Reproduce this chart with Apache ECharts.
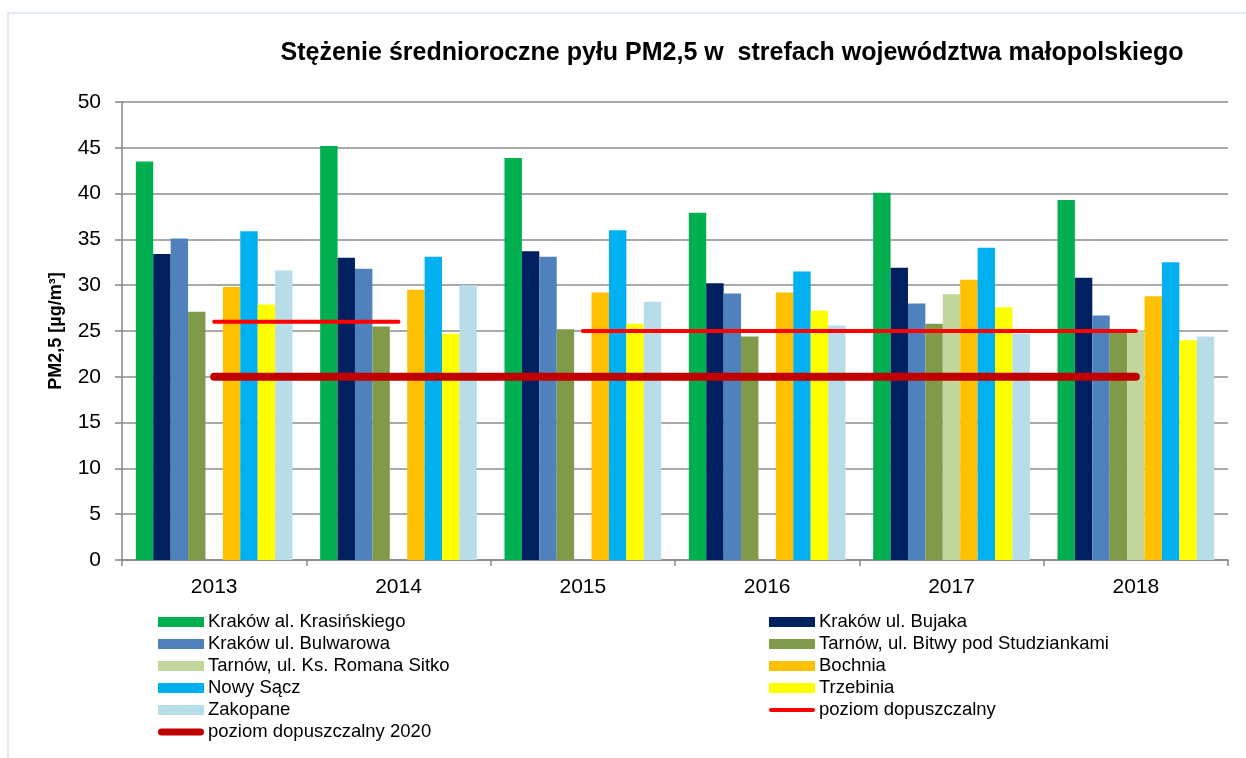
<!DOCTYPE html>
<html>
<head>
<meta charset="utf-8">
<script src="https://cdn.jsdelivr.net/npm/echarts@6/dist/echarts.min.js"></script>
<style>
html, body { margin: 0; padding: 0; background: #fff; }
#chart { width: 1246px; height: 758px; }
</style>
</head>
<body>
<div id="chart"></div>
<script>
const years = ['2013', '2014', '2015', '2016', '2017', '2018'];
const yTicks = [0, 5, 10, 15, 20, 25, 30, 35, 40, 45, 50];

// średnie roczne PM2,5 [µg/m3]
const krakowKrasinskiego = [43.5, 45.2, 43.9, 37.9, 40.1, 39.3];
const krakowBujaka = [33.4, 33.0, 33.7, 30.2, 31.9, 30.8];
const krakowBulwarowa = [35.1, 31.8, 33.1, 29.1, 28.0, 26.7];
const tarnowBitwy = [27.1, 25.5, 25.2, 24.4, 25.8, 24.9];
const tarnowSitko = [null, null, null, null, 29.0, 25.1];
const bochnia = [29.8, 29.5, 29.2, 29.2, 30.6, 28.8];
const nowySacz = [35.9, 33.1, 36.0, 31.5, 34.1, 32.5];
const trzebinia = [27.9, 24.7, 25.8, 27.2, 27.6, 24.0];
const zakopane = [31.6, 30.0, 28.2, 25.6, 24.7, 24.4];

// poziom dopuszczalny (z marginesem tolerancji) - dwa odcinki
const poziomA = [26, 26, null, null, null, null];
const poziomB = [null, null, 25, 25, 25, 25];
const poziom2020 = [20, 20, 20, 20, 20, 20];

const FONT = "'Liberation Sans', Arial, sans-serif";

const barSeries = [
    ['Kraków al. Krasińskiego', krakowKrasinskiego, '#00B050'],
    ['Kraków ul. Bujaka', krakowBujaka, '#002060'],
    ['Kraków ul. Bulwarowa', krakowBulwarowa, '#4F81BD'],
    ['Tarnów, ul. Bitwy pod Studziankami', tarnowBitwy, '#7F9B4A'],
    ['Tarnów, ul. Ks. Romana Sitko', tarnowSitko, '#C3D69B'],
    ['Bochnia', bochnia, '#FFC000'],
    ['Nowy Sącz', nowySacz, '#00B0F0'],
    ['Trzebinia', trzebinia, '#FFFF00'],
    ['Zakopane', zakopane, '#B7DDE8']
].map(([name, data, color]) => ({
    name: name,
    type: 'bar',
    data: data,
    barGap: '0%',
    barCategoryGap: '15%',
    itemStyle: { color: color },
    animation: false
}));

const lineSeries = [
    { name: 'poziom dopuszczalny', data: poziomA, color: '#FF0000', width: 4 },
    { name: 'poziom dopuszczalny', data: poziomB, color: '#FF0000', width: 4 },
    { name: 'poziom dopuszczalny 2020', data: poziom2020, color: '#C00000', width: 8 }
].map(s => ({
    name: s.name,
    type: 'line',
    data: s.data,
    symbol: 'none',
    connectNulls: false,
    z: 5,
    itemStyle: { color: s.color },
    lineStyle: { color: s.color, width: s.width, cap: 'round' },
    animation: false
}));

// ikony legendy dla linii (zaokrąglone końce)
const thinLineIcon = 'path://M2,3 L44,3 A2,2 0 0 1 44,7 L2,7 A2,2 0 0 1 2,3 Z';
const thickLineIcon = 'path://M3.5,1.5 L42.5,1.5 A3.5,3.5 0 0 1 42.5,8.5 L3.5,8.5 A3.5,3.5 0 0 1 3.5,1.5 Z';

const legendCommon = {
    orient: 'vertical',
    top: 611,
    itemWidth: 46,
    itemHeight: 10,
    itemGap: 0,
    icon: 'rect',
    textStyle: { fontFamily: FONT, fontSize: 18.5, color: '#000', lineHeight: 22, padding: [0, 0, 0, -1] },
    padding: 0
};

const chart = echarts.init(document.getElementById('chart'));
chart.setOption({
    backgroundColor: '#fff',
    title: {
        text: 'Stężenie średnioroczne pyłu PM2,5 w  strefach województwa małopolskiego',
        left: 727,
        top: 36,
        textAlign: 'center',
        textStyle: { fontFamily: FONT, fontSize: 25, fontWeight: 'bold', color: '#000' }
    },
    graphic: [{
        type: 'polyline',
        shape: { points: [[8, 770], [8, 13], [1260, 13]] },
        style: { stroke: '#D9E2EE', lineWidth: 1.5, fill: null },
        silent: true
    }],
    legend: [
        Object.assign({}, legendCommon, {
            left: 158,
            data: [
                'Kraków al. Krasińskiego',
                'Kraków ul. Bulwarowa',
                'Tarnów, ul. Ks. Romana Sitko',
                'Nowy Sącz',
                'Zakopane',
                { name: 'poziom dopuszczalny 2020', icon: thickLineIcon, itemStyle: { color: '#C00000' } }
            ]
        }),
        Object.assign({}, legendCommon, {
            left: 769,
            data: [
                'Kraków ul. Bujaka',
                'Tarnów, ul. Bitwy pod Studziankami',
                'Bochnia',
                'Trzebinia',
                { name: 'poziom dopuszczalny', icon: thinLineIcon, itemStyle: { color: '#FF0000' } }
            ]
        })
    ],
    grid: {
        left: 122,
        right: 18,
        top: 102,
        bottom: 198,
        containLabel: false
    },
    xAxis: {
        type: 'category',
        data: years,
        boundaryGap: true,
        axisLine: { lineStyle: { color: '#868686', width: 1.5 } },
        axisTick: { show: true, length: 6, interval: 0, lineStyle: { color: '#868686', width: 1.5 } },
        axisLabel: { fontFamily: FONT, fontSize: 21, color: '#000', margin: 17 }
    },
    yAxis: {
        type: 'value',
        min: yTicks[0],
        max: yTicks[yTicks.length - 1],
        interval: yTicks[1] - yTicks[0],
        name: 'PM2,5 [µg/m³]',
        nameLocation: 'middle',
        nameGap: 57,
        nameTextStyle: { fontFamily: FONT, fontSize: 18, fontWeight: 'bold', color: '#000' },
        axisLine: { show: true, lineStyle: { color: '#868686', width: 1.5 } },
        axisTick: { show: true, length: 7, lineStyle: { color: '#868686', width: 1.5 } },
        splitLine: { lineStyle: { color: '#8C8C8C', width: 1.5 } },
        axisLabel: { fontFamily: FONT, fontSize: 21, color: '#000', margin: 21 }
    },
    series: barSeries.concat(lineSeries)
});
</script>
</body>
</html>
